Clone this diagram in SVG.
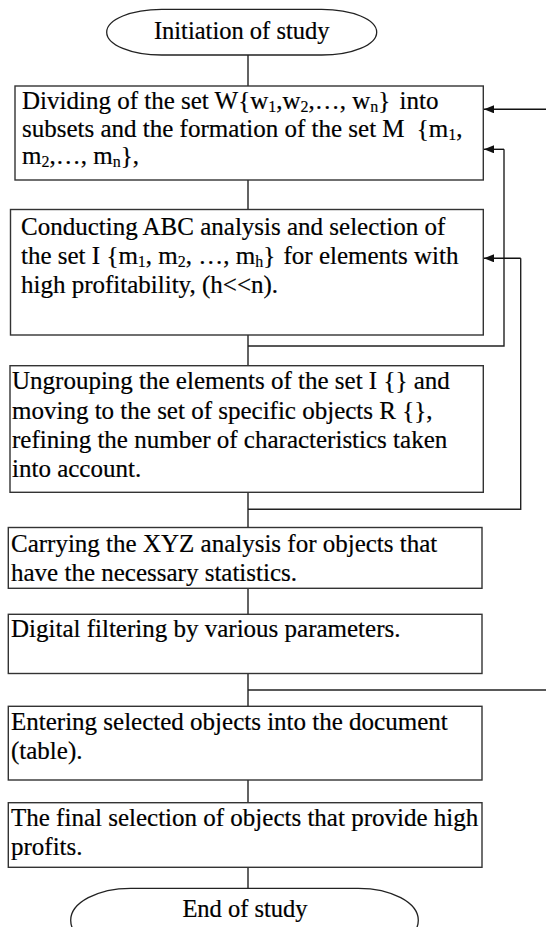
<svg xmlns="http://www.w3.org/2000/svg" width="546" height="927" viewBox="0 0 546 927">
<style>
  text { font-family: "Liberation Serif", "Times New Roman", serif; font-size: 25px; fill: #000; stroke: #000; stroke-width: 0.2; }
  .t { font-size: 24.5px; }
  .box { fill: #fff; stroke: #333; stroke-width: 1.4; }
  .term { fill: #fff; stroke: #222; stroke-width: 1.3; }
  .ln { fill: none; stroke: #222; stroke-width: 1.4; }
  .arr { fill: none; stroke: #111; stroke-width: 1.4; marker-end: url(#ah); }
  .sub { font-size: 16px; baseline-shift: -3px; stroke-width: 0.15; }
</style>
<defs>
  <marker id="ah" viewBox="0 0 10 8" refX="10" refY="4" markerWidth="10" markerHeight="8" markerUnits="userSpaceOnUse" orient="auto">
    <path d="M0,0 L10,4 L0,8 Z" fill="#111"/>
  </marker>
</defs>
<rect width="546" height="927" fill="#fff"/>

<g id="connectors">
  <path class="ln" d="M248,55 V86 M248,180 V209.5 M248,335 V365.7 M248,492.3 V527.5 M248,588.3 V614.3 M248,673.5 V706.3 M248,780 V802.7 M248,867.3 V888.3"/>
  <path class="ln" d="M248,346 H504 V149.3"/>
  <path class="arr" d="M504,149.3 H484"/>
  <path class="ln" d="M248,509.3 H520.7 V258.3"/>
  <path class="arr" d="M520.7,258.3 H484"/>
  <path class="ln" d="M248,690 H546"/>
  <path class="arr" d="M546,109.3 H484"/>
</g>

<g id="start">
  <rect class="term" x="106.7" y="9.3" width="270" height="45.7" rx="55" ry="22.85"/>
  <text class="t" x="241.7" y="39" text-anchor="middle">Initiation of study</text>
</g>

<g id="step1">
  <rect class="box" x="15" y="86" width="468.3" height="94"/>
  <text x="22" y="109">Dividing of the set W{w<tspan class="sub">1</tspan>,w<tspan class="sub">2</tspan>,…, w<tspan class="sub">n</tspan>}<tspan dx="3"> into</tspan></text>
  <text x="22" y="136.5">subsets and the formation of the set M<tspan dx="6"> {m</tspan><tspan class="sub">1</tspan>,</text>
  <text x="22" y="164">m<tspan class="sub">2</tspan>,…, m<tspan class="sub">n</tspan>},</text>
</g>

<g id="step2">
  <rect class="box" x="10.5" y="209.5" width="472.8" height="125.5"/>
  <text x="21" y="234.5">Conducting ABC analysis and selection of</text>
  <text x="21" y="263.5">the set I {m<tspan class="sub">1</tspan>, m<tspan class="sub">2</tspan>, …, m<tspan class="sub">h</tspan>}<tspan dx="2"> for elements with</tspan></text>
  <text x="21" y="292.5">high profitability, (h&lt;&lt;n).</text>
</g>

<g id="step3">
  <rect class="box" x="10" y="365.7" width="473.3" height="126.6"/>
  <text x="12" y="389">Ungrouping the elements of the set I {} and</text>
  <text x="12" y="418.5">moving to the set of specific objects R {},</text>
  <text x="12" y="448">refining the number of characteristics taken</text>
  <text x="12" y="477">into account.</text>
</g>

<g id="step4">
  <rect class="box" x="8.3" y="527.5" width="473.7" height="60.8"/>
  <text x="11" y="552">Carrying the XYZ analysis for objects that</text>
  <text x="11" y="580.5">have the necessary statistics.</text>
</g>

<g id="step5">
  <rect class="box" x="8.3" y="614.3" width="473.7" height="59.2"/>
  <text x="11" y="637">Digital filtering by various parameters.</text>
</g>

<g id="step6">
  <rect class="box" x="8.3" y="706.3" width="473.7" height="73.7"/>
  <text x="11" y="729.5">Entering selected objects into the document</text>
  <text x="11" y="758.5">(table).</text>
</g>

<g id="step7">
  <rect class="box" x="8.3" y="802.7" width="473.7" height="64.6"/>
  <text x="11" y="826">The final selection of objects that provide high</text>
  <text x="11" y="855">profits.</text>
</g>

<g id="end">
  <rect class="term" x="70.7" y="888.3" width="347.6" height="64" rx="60" ry="32"/>
  <text class="t" x="245" y="917" text-anchor="middle">End of study</text>
</g>
</svg>
